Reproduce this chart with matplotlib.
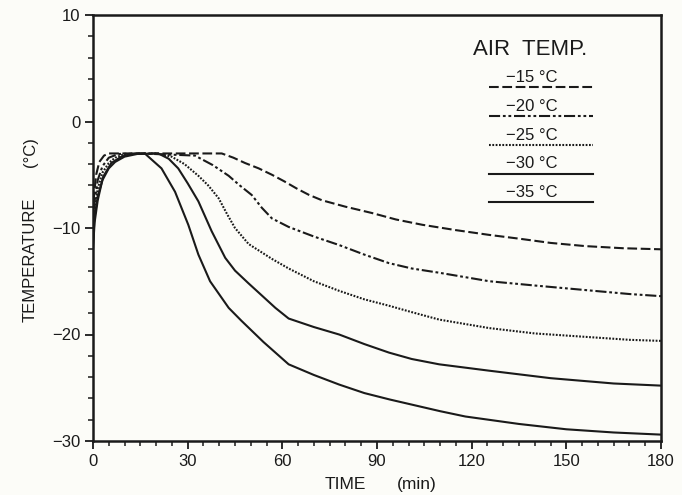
import matplotlib
matplotlib.use("Agg")
import matplotlib.pyplot as plt
from matplotlib.ticker import MultipleLocator
from matplotlib.lines import Line2D

plt.rcParams['font.family'] = ['Liberation Sans', 'DejaVu Sans']
plt.rcParams['lines.scale_dashes'] = False

# Cooling curves: time (min) vs temperature (°C) for each air temperature
t_m15 = [0, 0.3, 1, 2, 3.5, 5, 40.8, 44.5, 48.2, 52.5, 56.7, 60.5, 64.6, 68.5, 72.6,
         80, 88.5, 96, 104.4, 115, 125.6, 135, 145, 156, 168, 180]
T_m15 = [-10, -7, -5, -3.8, -3.2, -3.0, -3.0, -3.4, -3.9, -4.4, -5.0, -5.6, -6.3, -6.9, -7.4,
         -8.0, -8.6, -9.2, -9.7, -10.2, -10.65, -11.0, -11.4, -11.7, -11.9, -12.0]

t_m20 = [0, 0.5, 1.5, 3, 5, 8, 15, 32.3, 38, 43, 46.5, 50.3, 53.5, 56.7, 62, 70, 78, 86,
         93.8, 101, 109.7, 125.6, 140, 155, 170, 180]
T_m20 = [-10.5, -7.5, -5.5, -4.2, -3.4, -3.05, -3.0, -3.2, -4.1, -5.1, -6.0, -6.9, -8.1, -9.1,
         -9.9, -10.8, -11.6, -12.5, -13.3, -13.8, -14.2, -15.0, -15.4, -15.8, -16.2, -16.4]

t_m25 = [0, 0.5, 1.5, 3, 5, 7, 10, 20, 24.9, 29, 33.4, 36.5, 39.8, 42.5, 45, 49.3, 53, 56.7,
         62, 70, 78, 86, 93.8, 101, 109.7, 125.6, 140, 155, 170, 180]
T_m25 = [-11, -8.5, -6.3, -4.8, -3.9, -3.4, -3.05, -3.0, -3.3, -4.0, -5.1, -6.0, -7.2, -8.7,
         -10.0, -11.5, -12.2, -12.9, -13.8, -15.0, -15.9, -16.7, -17.3, -17.9, -18.6, -19.4,
         -19.9, -20.2, -20.5, -20.6]

t_m30 = [0, 0.5, 1.5, 3, 5, 7, 10, 14, 20.7, 24, 27, 30, 33.4, 37.6, 41.9, 45, 49.3, 53,
         57.8, 62, 70, 78, 86, 93.8, 101, 109.7, 125.6, 145, 165, 180]
T_m30 = [-11.5, -9, -7, -5.5, -4.4, -3.8, -3.3, -3.05, -3.0, -3.5, -4.4, -5.8, -7.5, -10.3,
         -12.8, -14.0, -15.2, -16.2, -17.5, -18.5, -19.3, -20.0, -20.9, -21.7, -22.3, -22.8,
         -23.4, -24.1, -24.6, -24.8]

t_m35 = [0, 0.5, 1.5, 3.2, 5.8, 9, 12, 16.4, 21.7, 26, 30.2, 33.4, 37.1, 43, 47, 54, 62,
         70, 78, 86, 94, 110, 118, 135, 150, 165, 180]
T_m35 = [-12, -9.5, -7.4, -5.2, -3.9, -3.3, -3.05, -3.0, -4.4, -6.6, -9.7, -12.5, -15.0,
         -17.5, -18.7, -20.7, -22.8, -23.8, -24.7, -25.5, -26.1, -27.2, -27.7, -28.4, -28.9,
         -29.2, -29.4]

labels = ["\u221215 \u00b0C", "\u221220 \u00b0C", "\u221225 \u00b0C", "\u221230 \u00b0C", "\u221235 \u00b0C"]
x_ticks = [0, 30, 60, 90, 120, 150, 180]
y_ticks = [-30, -20, -10, 0, 10]

ink = "#1a1a1a"
bg = "#fcfcf8"

styles = [
    dict(linestyle=(0, (7, 2.6))),
    dict(linestyle=(0, (8, 2, 2, 2, 2, 2))),
    dict(linestyle=(0, (1.3, 1.1))),
    dict(linestyle="-"),
    dict(linestyle="-"),
]
series = [(t_m15, T_m15), (t_m20, T_m20), (t_m25, T_m25), (t_m30, T_m30), (t_m35, T_m35)]

W, H = 682, 495
fig = plt.figure(figsize=(W / 100, H / 100), dpi=100, facecolor=bg)
ax = fig.add_axes([93 / W, 1 - 441 / H, (661 - 93) / W, (441 - 15) / H])
ax.set_facecolor(bg)

for (t, T), st in zip(series, styles):
    ax.plot(t, T, color=ink, linewidth=1.5, solid_capstyle="butt", dash_capstyle="butt", **st)

ax.set_xlim(0, 180)
ax.set_ylim(-30, 10)
ax.set_xticks(x_ticks)
ax.set_yticks(y_ticks)
ax.set_xticklabels([str(v) for v in x_ticks])
ax.set_yticklabels([str(v).replace("-", "\u2212") for v in y_ticks])
ax.xaxis.set_minor_locator(MultipleLocator(5))
ax.yaxis.set_minor_locator(MultipleLocator(2))
ax.tick_params(which="major", direction="out", length=6, width=1.3, color=ink,
               labelsize=12, labelcolor=ink, pad=3)
ax.tick_params(which="minor", direction="out", length=3.5, width=1.1, color=ink)
ax.tick_params(top=False, right=False)
for s in ax.spines.values():
    s.set_linewidth(1.8)
    s.set_color(ink)

# axis titles (shared baselines)
fig.text(345 / W, 1 - 489 / H, "TIME", ha="center", va="baseline", fontsize=12.5, color=ink)
fig.text(417 / W, 1 - 489 / H, "(min)", ha="center", va="baseline", fontsize=12.5, color=ink)
fig.text(35 / W, 1 - 260 / H, "TEMPERATURE", rotation=90, rotation_mode="anchor",
         ha="center", va="baseline", fontsize=12, color=ink)
fig.text(35 / W, 1 - 152 / H, "(\u00b0C)", rotation=90, rotation_mode="anchor",
         ha="center", va="baseline", fontsize=12, color=ink)

# key
ax.text(0.77, 0.92, "AIR  TEMP.", transform=ax.transAxes, ha="center", va="center",
        fontsize=16, color=ink)
line_y = [0.8307, 0.7618, 0.6939, 0.6276, 0.5614]
for lab, st, ly in zip(labels, styles, line_y):
    ax.text(0.772, ly + 0.023, lab, transform=ax.transAxes, ha="center", va="center",
            fontsize=12, color=ink)
    ax.add_line(Line2D([0.697, 0.880], [ly, ly], transform=ax.transAxes, color=ink,
                       linewidth=1.5, dash_capstyle="butt", **st))

fig.savefig("out.png", dpi=100, facecolor=bg)
